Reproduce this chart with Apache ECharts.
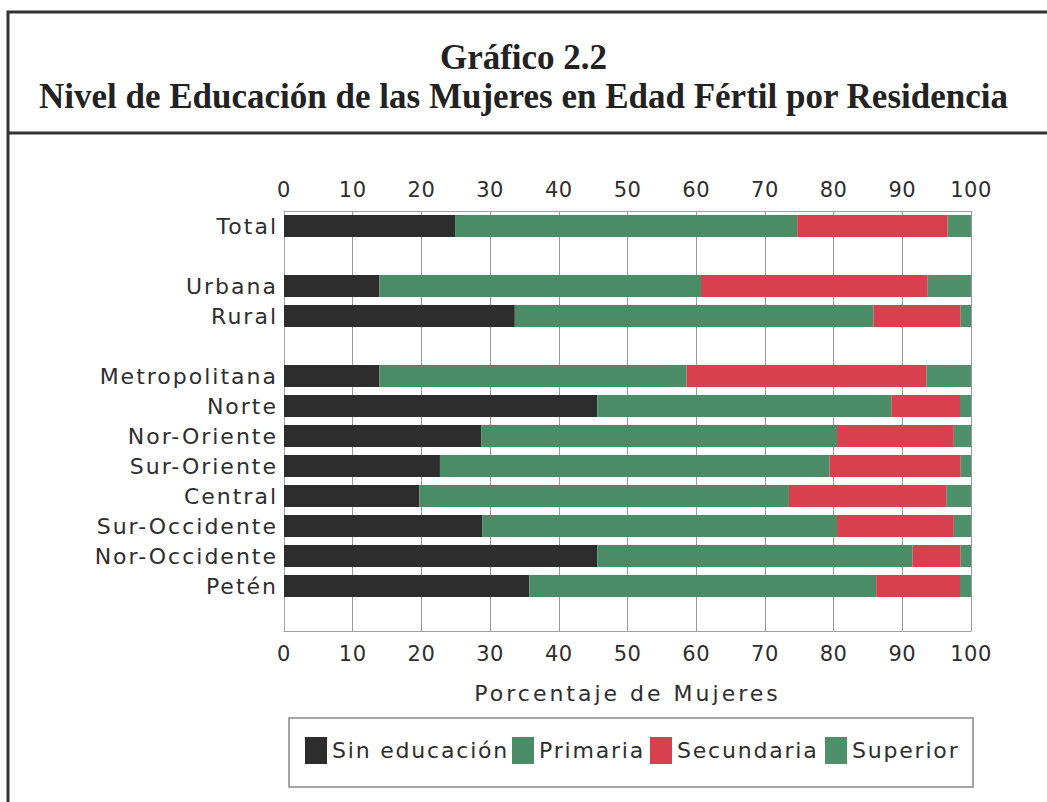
<!DOCTYPE html>
<html>
<head>
<meta charset="utf-8">
<script src="https://cdn.jsdelivr.net/npm/echarts@6/dist/echarts.min.js"></script>
<style>
  html, body { margin: 0; padding: 0; background: #ffffff; }
  #chart { width: 1047px; height: 802px; }
  #chart text[style*="ylbl"] { letter-spacing: 2px; }
  #chart text[style*="xlbl"] { letter-spacing: 0.5px; }
  #chart text[style*="xname"] { letter-spacing: 3px; }
  #chart text[style*="lgd"] { letter-spacing: 1.8px; }
</style>
</head>
<body>
<div id="chart"></div>
<script>
const titleLine1 = 'Gráfico 2.2';
const titleLine2 = 'Nivel de Educación de las Mujeres en Edad Fértil por Residencia';
const axisName = 'Porcentaje de Mujeres';
const categories = ['Total', '', 'Urbana', 'Rural', ' ', 'Metropolitana', 'Norte', 'Nor-Oriente', 'Sur-Oriente', 'Central', 'Sur-Occidente', 'Nor-Occidente', 'Petén', '  '];
const seriesNames = ['Sin educación', 'Primaria', 'Secundaria', 'Superior'];
const sinEducacion = [24.9, null, 13.9, 33.6, null, 13.9, 45.6, 28.7, 22.7, 19.7, 28.9, 45.6, 35.7, null];
const primaria     = [49.8, null, 46.8, 52.2, null, 44.7, 42.8, 51.8, 56.7, 53.8, 51.6, 45.9, 50.5, null];
const secundaria   = [21.9, null, 33.0, 12.7, null, 34.9, 10.0, 17.0, 19.1, 22.9, 17.0, 7.0, 12.2, null];
const superior     = [3.4, null, 6.3, 1.5, null, 6.5, 1.6, 2.5, 1.5, 3.6, 2.5, 1.5, 1.6, null];
const xTicks = [0, 10, 20, 30, 40, 50, 60, 70, 80, 90, 100];

const colors = ['#2d2d2d', '#4a8c65', '#d8404f', '#4e9069'];
const values = [sinEducacion, primaria, secundaria, superior];

const sans = 'DejaVu Sans';
const chart = echarts.init(document.getElementById('chart'), null, { renderer: 'svg' });

const xAxisCommon = {
  type: 'value', min: xTicks[0], max: xTicks[xTicks.length - 1], interval: 10,
  axisTick: { show: false },
  axisLine: { show: true, lineStyle: { color: '#a0a0a0', width: 1 } },
  splitLine: { show: true, lineStyle: { color: '#9a9a9a', width: 1 } },
  axisLabel: { color: '#2e2e2e', fontSize: 21, fontFamily: 'xlbl, ' + sans }
};

const legendLefts = [305, 512, 650, 825];

chart.setOption({
  backgroundColor: '#ffffff',
  animation: false,
  title: {
    text: titleLine1 + '\n' + titleLine2,
    left: 'center', top: 38, padding: 0,
    textStyle: { fontFamily: 'Liberation Serif', fontWeight: 'bold', fontSize: 35, lineHeight: 39, color: '#222' }
  },
  graphic: [
    { type: 'rect', shape: { x: 8, y: 12, width: 1100, height: 900 }, style: { fill: 'none', stroke: '#333', lineWidth: 3 }, silent: true },
    { type: 'line', shape: { x1: 8, y1: 133, x2: 1047, y2: 133 }, style: { stroke: '#333', lineWidth: 3 }, silent: true },
    { type: 'rect', shape: { x: 289, y: 718, width: 684, height: 69 }, style: { fill: 'none', stroke: '#888', lineWidth: 1.5 }, silent: true }
  ],
  legend: seriesNames.map((n, i) => ({
    data: [n], left: legendLefts[i], top: 737, padding: 0,
    itemWidth: 22, itemHeight: 27, itemGap: 6,
    icon: 'rect',
    textStyle: { color: '#2e2e2e', fontSize: 22, fontFamily: 'lgd, ' + sans }
  })),
  grid: { left: 284, right: 76, top: 211, bottom: 171, containLabel: false },
  xAxis: [
    Object.assign({}, xAxisCommon, { position: 'top', axisLabel: Object.assign({}, xAxisCommon.axisLabel, { margin: 11 }) }),
    Object.assign({}, xAxisCommon, {
      position: 'bottom',
      axisLabel: Object.assign({}, xAxisCommon.axisLabel, { margin: 12 }),
      name: axisName, nameLocation: 'middle', nameGap: 51,
      nameTextStyle: { color: '#2e2e2e', fontSize: 22, fontFamily: 'xname, ' + sans }
    })
  ],
  yAxis: {
    type: 'category', inverse: true, data: categories,
    axisTick: { show: false },
    axisLine: { show: true, lineStyle: { color: '#a0a0a0', width: 1 } },
    splitLine: { show: false },
    axisLabel: { color: '#2e2e2e', fontSize: 22, margin: 6, fontFamily: 'ylbl, ' + sans }
  },
  series: seriesNames.map((n, i) => ({
    name: n, type: 'bar', stack: 'total', xAxisIndex: 1,
    barWidth: 22,
    itemStyle: { color: colors[i] },
    data: values[i]
  }))
});
</script>
</body>
</html>
